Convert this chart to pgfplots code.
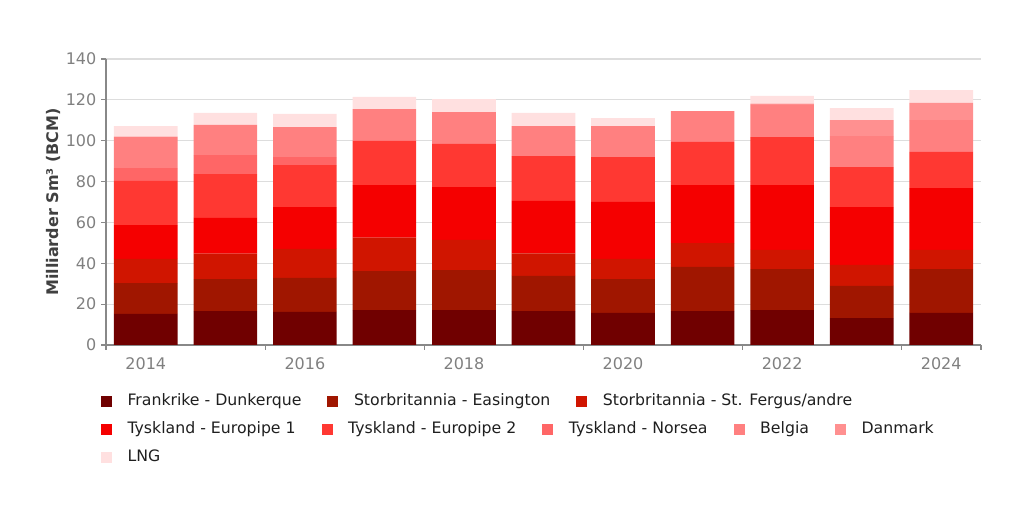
\documentclass[border=0pt]{standalone}
\usepackage{fontspec}
\setmainfont{DejaVu Sans}
\usepackage{pgfplots}
\usepackage{pgfplotstable}
\pgfplotsset{compat=1.18}
\definecolor{cF}{HTML}{700000}
\definecolor{cE}{HTML}{A01600}
\definecolor{cS}{HTML}{D01500}
\definecolor{cP1}{HTML}{F50000}
\definecolor{cP2}{HTML}{FF3832}
\definecolor{cN}{HTML}{FF6666}
\definecolor{cB}{HTML}{FF8080}
\definecolor{cD}{HTML}{FF9090}
\definecolor{cL}{HTML}{FFE0E0}
\definecolor{axgray}{HTML}{888888}
\definecolor{tickgray}{HTML}{808080}
\definecolor{gridgray}{HTML}{DDDDDD}
\definecolor{labgray}{HTML}{404040}

\pgfplotstableread{
year F E S P1 P2 N B D L
2014 15.2 15.1 11.8 16.6 21.6 6.3 15.4 0 5.1
2015 16.6 15.7 12.4 17.5 21.5 9.3 14.7 0 5.9
2016 16.2 16.6 14.2 20.5 20.6 3.9 14.7 0 6.4
2017 17.1 19.1 16.3 25.8 21.6 0 15.6 0 5.9
2018 17.1 19.6 14.7 25.9 21.1 0 15.6 0 6.4
2019 16.6 17.2 11.1 25.6 22.0 0 14.7 0 6.4
2020 15.7 16.6 9.8 27.9 22.0 0 15.2 0 3.9
2021 16.6 21.6 11.7 28.4 21.1 0 15.1 0 0
2022 17.1 20.1 9.4 31.7 23.5 0 15.7 0.7 3.7
2023 13.2 15.7 10.3 28.3 19.6 0 15.2 7.8 5.9
2024 15.7 21.5 9.4 30.2 17.7 0 15.6 8.4 6.3
}\data

\pgfplotsset{
  legrow/.style={
    at={(0pt,0pt)}, anchor=south west, scale only axis,
    width=768pt, height=382.5pt, hide axis,
    xmin=0, xmax=1, ymin=0, ymax=1,
    legend columns=-1,
    legend cell align=left,
    legend image code/.code={\fill[##1] (0pt,-3.75pt) rectangle (7.5pt,3.75pt);},
    legend style={at={(0.0986,#1)}, anchor=west, draw=none, fill=none,
      inner sep=0pt, outer sep=0pt,
      font=\fontsize{11.8}{14}\selectfont,
      nodes={inner sep=0pt, text=black!88},
      /tikz/every odd column/.append style={column sep=12pt},
      /tikz/every even column/.append style={column sep=19.5pt}},
  }
}

\begin{document}
\begin{tikzpicture}
\path[use as bounding box] (0pt,0pt) rectangle (768pt,382.5pt);
\begin{axis}[
  at={(79.5pt,123.75pt)}, anchor=south west,
  scale only axis, width=656.25pt, height=214.5pt,
  ybar stacked, bar width=0.8,
  xmin=2013.5, xmax=2024.5, ymin=0, ymax=140,
  axis lines*=left,
  axis line style={axgray, line width=0.8pt},
  xtick={2014,2016,2018,2020,2022,2024},
  xticklabels={2014,2016,2018,2020,2022,2024},
  minor xtick={2013.5,2015.5,2017.5,2019.5,2021.5,2023.5,2024.5},
  major x tick style={draw=none},
  minor x tick style={axgray, line width=0.8pt},
  minor tick length=3.75pt,
  ytick={0,20,...,140},
  major y tick style={axgray, line width=0.8pt},
  major tick length=3.75pt,
  tick align=outside,
  ymajorgrids, grid style={gridgray, line width=0.8pt},
  tick label style={font=\fontsize{12}{14}\selectfont, text=tickgray},
  xticklabel style={yshift=-2pt},
  /pgf/number format/assume math mode=true,
  ylabel={Milliarder Sm³ (BCM)},
  ylabel style={font=\bfseries\fontsize{12}{14}\selectfont, text=labgray,
    at={(axis description cs:-0.0606,0.5)}, anchor=center},
]
\addplot[fill=cF, draw=none] table[x=year,y=F]{\data};
\addplot[fill=cE, draw=none] table[x=year,y=E]{\data};
\addplot[fill=cS, draw=none] table[x=year,y=S]{\data};
\addplot[fill=cP1, draw=none] table[x=year,y=P1]{\data};
\addplot[fill=cP2, draw=none] table[x=year,y=P2]{\data};
\addplot[fill=cN, draw=none] table[x=year,y=N]{\data};
\addplot[fill=cB, draw=none] table[x=year,y=B]{\data};
\addplot[fill=cD, draw=none] table[x=year,y=D]{\data};
\addplot[fill=cL, draw=none] table[x=year,y=L]{\data};
\end{axis}

\begin{axis}[legrow=0.2137]
\addlegendimage{cF}\addlegendentry{Frankrike - Dunkerque}
\addlegendimage{cE}\addlegendentry{Storbritannia - Easington}
\addlegendimage{cS}\addlegendentry{Storbritannia - St. Fergus/andre}
\end{axis}
\begin{axis}[legrow=0.1588]
\addlegendimage{cP1}\addlegendentry{Tyskland - Europipe 1}
\addlegendimage{cP2}\addlegendentry{Tyskland - Europipe 2}
\addlegendimage{cN}\addlegendentry{Tyskland - Norsea}
\addlegendimage{cB}\addlegendentry{Belgia}
\addlegendimage{cD}\addlegendentry{Danmark}
\end{axis}
\begin{axis}[legrow=0.1039]
\addlegendimage{cL}\addlegendentry{LNG}
\end{axis}
\end{tikzpicture}
\end{document}
